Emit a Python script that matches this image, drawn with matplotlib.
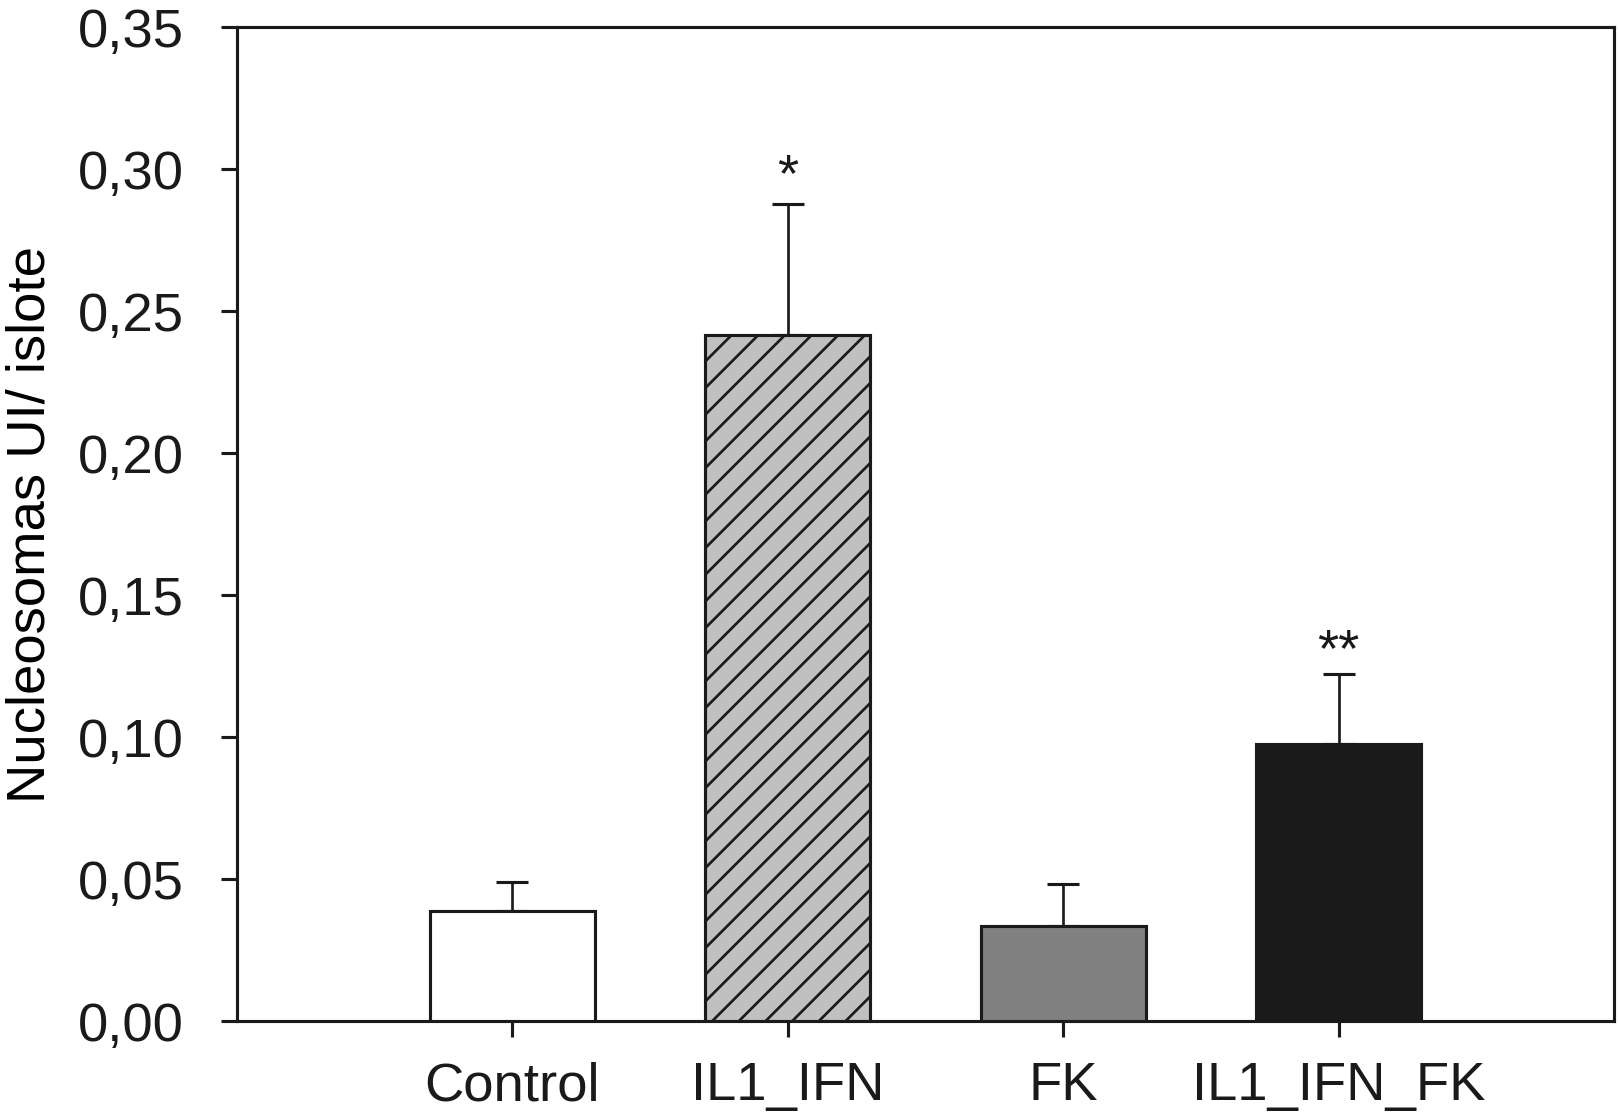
import matplotlib
matplotlib.use("Agg")
import matplotlib.pyplot as plt
import numpy as np

categories = ["Control", "IL1_IFN", "FK", "IL1_IFN_FK"]
means = [0.0389, 0.2416, 0.0335, 0.0975]
errors = [0.0099, 0.0462, 0.0149, 0.0247]
stars = ["", "*", "", "**"]
yticks = [0.00, 0.05, 0.10, 0.15, 0.20, 0.25, 0.30, 0.35]
ytick_labels = ["0,00", "0,05", "0,10", "0,15", "0,20", "0,25", "0,30", "0,35"]

colors = ["#ffffff", "#c0c0c0", "#808080", "#1a1a1a"]
hatches = ["", "//", "", ""]

plt.rcParams['font.family'] = ['Liberation Sans', 'DejaVu Sans']
plt.rcParams['hatch.linewidth'] = 1.2
plt.rcParams['hatch.color'] = '#1a1a1a'

DPI = 160
fig = plt.figure(figsize=(1618 / DPI, 1116 / DPI), dpi=DPI)
ax = fig.add_axes([0.1465, 0.0851, 0.9975 - 0.1465, 0.9758 - 0.0851])

x = np.arange(len(categories))
fs = 24.5
edge = "#1a1a1a"

bars = ax.bar(x, means, width=0.6, color=colors, edgecolor=edge, linewidth=1.4, zorder=3)
for b, h in zip(bars, hatches):
    if h:
        b.set_hatch(h)

ax.errorbar(x, means, yerr=[np.zeros(len(means)), errors], fmt='none', ecolor=edge,
            elinewidth=1.2, capsize=7, capthick=1.4, zorder=2)

star_offsets = [0, 5.5, 0, 3.5]
for xi, m, e, s, off in zip(x, means, errors, stars, star_offsets):
    if s:
        ax.annotate(s, xy=(xi, m + e), xytext=(0, off), textcoords='offset points',
                    ha='center', va='baseline', fontsize=fs, color=edge)

ax.set_xlim(-1, 4)
ax.set_ylim(0, 0.35)
ax.set_xticks(x)
ax.set_xticklabels(categories, fontsize=fs)
ax.set_yticks(yticks)
ax.set_yticklabels(ytick_labels, fontsize=fs)
ax.set_ylabel("Nucleosomas UI/ islote", fontsize=fs, labelpad=10)

for sp in ax.spines.values():
    sp.set_linewidth(1.4)
    sp.set_color(edge)

ax.tick_params(axis='both', direction='out', length=7, width=1.4, colors=edge)
ax.tick_params(axis='y', pad=17)
ax.tick_params(axis='x', pad=11)

fig.savefig("out.png", dpi=DPI)
